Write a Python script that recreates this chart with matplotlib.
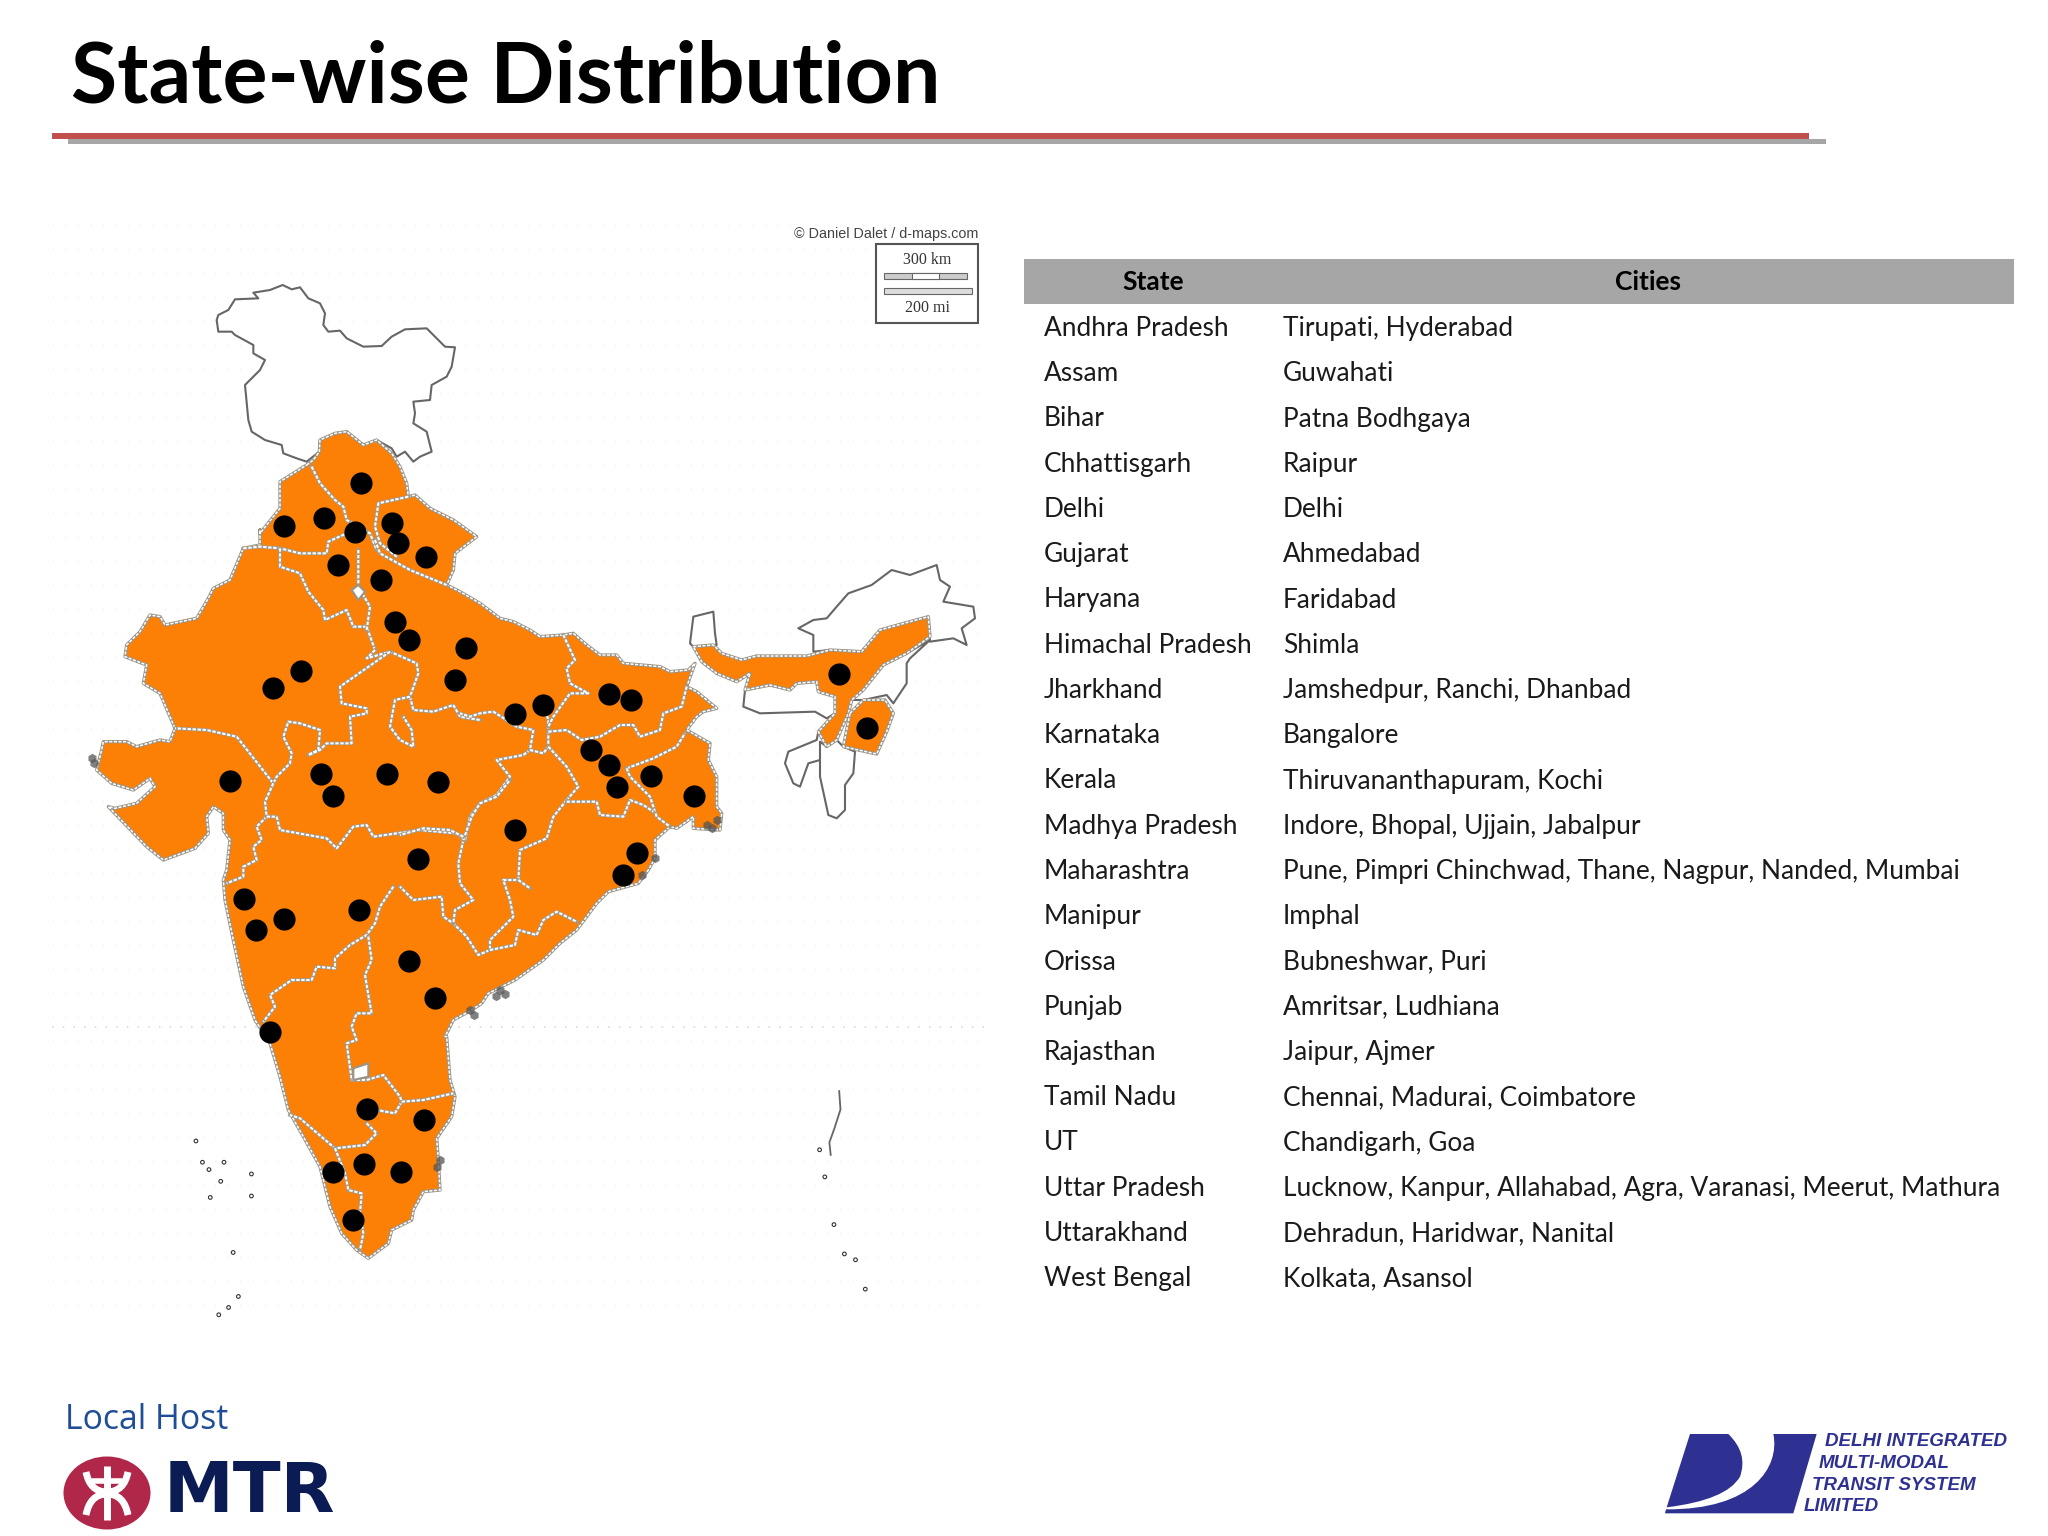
import matplotlib
matplotlib.use('Agg')
import matplotlib.pyplot as plt
from matplotlib.patches import Polygon, Rectangle, Ellipse, PathPatch
from matplotlib.path import Path

plt.rcParams['font.family'] = ['Lato', 'DejaVu Sans']

states = ['Andhra Pradesh', 'Assam', 'Bihar', 'Chhattisgarh', 'Delhi', 'Gujarat', 'Haryana',
          'Himachal Pradesh', 'Jharkhand', 'Karnataka', 'Kerala', 'Madhya Pradesh', 'Maharashtra',
          'Manipur', 'Orissa', 'Punjab', 'Rajasthan', 'Tamil Nadu', 'UT', 'Uttar Pradesh',
          'Uttarakhand', 'West Bengal']
cities = ['Tirupati, Hyderabad', 'Guwahati', 'Patna Bodhgaya', 'Raipur', 'Delhi', 'Ahmedabad',
          'Faridabad', 'Shimla', 'Jamshedpur, Ranchi, Dhanbad', 'Bangalore',
          'Thiruvananthapuram, Kochi', 'Indore, Bhopal, Ujjain, Jabalpur',
          'Pune, Pimpri Chinchwad, Thane, Nagpur, Nanded, Mumbai', 'Imphal', 'Bubneshwar, Puri',
          'Amritsar, Ludhiana', 'Jaipur, Ajmer', 'Chennai, Madurai, Coimbatore', 'Chandigarh, Goa',
          'Lucknow, Kanpur, Allahabad, Agra, Varanasi, Meerut, Mathura',
          'Dehradun, Haridwar, Nanital', 'Kolkata, Asansol']

# city markers, map coordinates
city_x = [553, 435, 496, 544, 600, 609, 653, 518, 583, 605, 627, 714, 696, 461, 418, 788, 832, 932,
          966, 1285, 1328, 905, 932, 945, 997, 1063, 352, 492, 510, 592, 671, 788, 640, 975, 954,
          374, 392, 435, 549, 627, 666, 413, 562, 649, 510, 557, 614, 540]
city_y = [386, 444, 433, 452, 440, 467, 487, 498, 518, 576, 600, 611, 654, 642, 665, 701, 689, 674,
          682, 646, 720, 750, 770, 801, 786, 813, 792, 782, 813, 782, 794, 859, 898, 890, 921,
          953, 995, 980, 968, 1038, 1088, 1135, 1240, 1255, 1325, 1314, 1325, 1391]


# outlines were traced on 3x crops, this puts them back in page pixels
def crop(x0, y0, pts):
    return [(x0 + x / 3, y0 + y / 3) for x, y in pts]


mainland = (
    crop(200, 270, [(320, 585), (340, 570), (358, 545), (360, 510), (405, 490), (440, 485), (490, 525), (530, 510),
                    (575, 550), (600, 590), (620, 640), (625, 680), (645, 675), (690, 715), (760, 750), (830, 800)])
    + crop(80, 520, [(1125, 100), (1120, 150), (1100, 195), (1140, 215)])
    + crop(460, 520, [(60, 250), (120, 295), (160, 305), (210, 330), (240, 350), (310, 345), (340, 340), (380, 375),
                      (420, 405), (470, 405), (490, 430), (600, 440), (630, 455), (685, 450), (705, 430), (680, 500),
                      (710, 515), (770, 565), (730, 575), (710, 590), (680, 630), (750, 670), (745, 720), (770, 770),
                      (770, 860), (785, 880), (780, 930), (700, 925), (700, 890), (650, 925)])
    + crop(400, 780, [(810, 140), (765, 180), (765, 235), (745, 270), (715, 310), (625, 335), (590, 370), (530, 450),
                      (480, 490), (430, 540), (345, 600), (265, 640), (245, 670), (215, 690), (160, 720), (135, 770)])
    + crop(220, 880, [(680, 470), (690, 600), (705, 650), (695, 710), (650, 775), (655, 840), (660, 930), (610, 935),
                      (580, 990), (575, 1020), (515, 1050), (505, 1090), (445, 1135), (410, 1110), (365, 1060),
                      (330, 980), (300, 860), (250, 770), (205, 690), (180, 590), (150, 490), (105, 420), (70, 320),
                      (40, 180), (15, 60), (10, 0)])
    + crop(80, 520, [(440, 1050), (450, 960), (430, 930), (430, 880), (400, 860), (380, 890), (385, 940), (345, 985),
                     (250, 1020), (200, 980), (85, 860), (105, 865), (170, 850), (225, 800), (210, 775), (160, 810),
                     (95, 790), (50, 750), (65, 690), (70, 665), (140, 665), (170, 680), (240, 660), (270, 665),
                     (285, 625), (240, 520), (190, 490), (200, 435), (135, 410), (140, 375), (180, 335), (210, 285),
                     (240, 290), (255, 315), (350, 295), (385, 235), (400, 205), (450, 180), (490, 85), (540, 75),
                     (540, 30)])
    + crop(200, 270, [(180, 790), (240, 715), (240, 635)])
)
assam = crop(680, 550, [(40, 290), (100, 285), (125, 310), (185, 330), (230, 318), (380, 318), (450, 300), (545, 305),
                        (600, 240), (690, 215), (745, 200), (750, 260), (680, 310), (610, 345), (550, 420), (515, 450),
                        (505, 490), (470, 570), (440, 590), (415, 545), (465, 490), (465, 440), (415, 425), (410, 395),
                        (350, 400), (330, 420), (270, 405), (195, 420), (210, 370), (170, 395), (110, 370), (65, 335)])
manipur = crop(680, 550, [(510, 490), (550, 450), (615, 450), (640, 490), (620, 545), (590, 612), (490, 590)])

white_areas = [
    crop(200, 270, [(50, 150), (55, 135), (85, 120), (105, 88), (175, 85), (160, 68), (210, 60), (248, 45), (275, 58),
                    (300, 52), (325, 85), (360, 100), (375, 130), (370, 165), (385, 185), (420, 182), (440, 205),
                    (490, 230), (545, 228), (575, 200), (615, 178), (680, 175), (710, 205), (735, 230), (765, 232),
                    (755, 290), (740, 320), (695, 345), (690, 390), (640, 395), (645, 430), (640, 460), (680, 485),
                    (695, 545), (660, 560), (640, 575), (615, 545), (590, 560), (575, 535), (530, 510), (490, 525),
                    (440, 485), (405, 490), (360, 510), (358, 545), (320, 575), (290, 565), (250, 550), (245, 525),
                    (195, 510), (155, 485), (145, 450), (135, 345), (180, 300), (195, 270), (160, 250), (160, 225),
                    (105, 195), (95, 185), (55, 185)]),
    crop(680, 550, [(30, 280), (40, 200), (100, 185), (105, 250), (110, 285), (40, 290)]),
    crop(680, 550, [(355, 235), (400, 210), (440, 205), (470, 170), (505, 130), (575, 105), (635, 60), (690, 75),
                    (770, 45), (780, 90), (810, 110), (790, 155), (880, 170), (885, 205), (845, 235), (860, 285),
                    (820, 265), (750, 275), (745, 205), (690, 215), (600, 240), (545, 305), (450, 300), (400, 305),
                    (400, 255)]),
    crop(680, 550, [(680, 310), (750, 270), (690, 325), (680, 340), (680, 400), (640, 460), (620, 435), (550, 450),
                    (515, 450), (550, 420), (610, 345)]),
    crop(680, 550, [(195, 420), (270, 405), (330, 420), (350, 400), (410, 395), (415, 425), (465, 440), (465, 490),
                    (440, 505), (405, 485), (240, 490), (190, 470)]),
    crop(680, 550, [(415, 545), (410, 570), (325, 605), (315, 640), (340, 700), (360, 710), (385, 640), (420, 630),
                    (440, 590)]),
    crop(680, 550, [(420, 575), (440, 590), (470, 570), (490, 590), (525, 605), (520, 670), (495, 705), (495, 780),
                    (470, 805), (445, 795), (420, 680)]),
]
# small pockets inside the mainland
pockets = [
    crop(80, 520, [(815, 210), (835, 195), (855, 215), (835, 240)]),
    crop(220, 880, [(400, 565), (445, 550), (445, 590), (400, 600)]),
]

borders = [
    crop(80, 520, [(490, 85), (540, 80), (600, 85), (660, 100), (740, 100), (745, 65), (800, 40), (840, 35)]),
    crop(80, 520, [(600, 85), (600, 140), (660, 160), (685, 215), (730, 270), (735, 300), (800, 270), (820, 320),
                   (860, 320), (885, 390)]),
    crop(80, 520, [(835, 90), (835, 200), (870, 260), (860, 330)]),
    crop(80, 520, [(885, 390), (860, 415), (930, 395), (1010, 430), (1015, 460), (990, 530), (1000, 570), (1060, 575),
                   (1120, 555), (1140, 590), (1200, 600)]),
    crop(80, 520, [(990, 530), (945, 540), (930, 620), (960, 660), (1000, 680), (995, 630), (970, 590)]),
    crop(80, 520, [(930, 395), (780, 500), (785, 550), (860, 565), (860, 580), (810, 590), (815, 670), (740, 670),
                   (720, 690), (685, 705), (715, 690), (720, 630), (660, 610), (625, 605), (610, 650), (635, 700),
                   (630, 730), (590, 770), (580, 790), (470, 650), (380, 630), (285, 625)]),
    crop(80, 520, [(580, 790), (555, 845), (560, 890), (530, 920), (545, 960), (520, 980), (530, 1020), (490, 1040),
                   (490, 1070), (440, 1090)]),
    crop(80, 520, [(560, 890), (590, 890), (600, 930), (740, 955), (770, 985), (820, 920), (860, 915), (880, 950),
                   (1020, 930), (1130, 940), (1155, 960)]),
    crop(80, 520, [(1155, 960), (1170, 890), (1200, 850)]),
    # Himachal, Uttarakhand
    crop(200, 270, [(335, 590), (360, 640), (405, 690), (430, 710), (440, 750), (510, 790), (530, 840)]),
    crop(200, 270, [(625, 680), (535, 700), (525, 770), (540, 820), (590, 860)]),
    crop(80, 520, [(885, 60), (900, 100), (990, 150), (1100, 195)]),
    crop(460, 520, [(60, 850), (110, 825), (150, 770), (110, 720), (190, 705), (210, 690), (220, 630), (170, 620),
                    (100, 575), (60, 580), (30, 590), (0, 580)]),
    crop(460, 520, [(210, 690), (250, 700), (265, 680), (265, 600), (250, 555)]),
    crop(460, 520, [(310, 345), (345, 420), (320, 445), (330, 490), (385, 520), (330, 520), (280, 590), (265, 620)]),
    crop(460, 520, [(265, 635), (320, 630), (365, 660), (420, 650), (480, 615), (520, 615), (540, 650), (600, 630),
                    (610, 580), (665, 560), (680, 500)]),
    crop(460, 520, [(265, 680), (320, 740), (355, 800), (320, 840)]),
    crop(460, 520, [(500, 745), (580, 715), (650, 680), (675, 640)]),
    crop(460, 520, [(500, 745), (510, 770), (570, 830), (590, 890), (630, 920)]),
    crop(400, 780, [(500, 60), (460, 110), (440, 175), (360, 210), (355, 300), (310, 300), (330, 360), (340, 410),
                    (270, 480), (270, 510), (235, 525), (200, 470), (160, 430), (130, 410), (125, 350), (40, 360),
                    (0, 320)]),
    crop(400, 780, [(355, 300), (390, 325)]),
    crop(400, 780, [(190, 180), (175, 250), (180, 310), (220, 360), (165, 390), (160, 430)]),
    crop(400, 780, [(190, 180), (215, 110), (240, 70), (290, 50), (330, 0)]),
    crop(400, 780, [(190, 170), (150, 150), (70, 145), (0, 165)]),
    crop(400, 780, [(270, 510), (345, 495), (355, 450), (410, 465), (430, 420), (470, 395), (530, 425)]),
    crop(400, 780, [(500, 65), (590, 65), (600, 105), (670, 110), (690, 60), (730, 75), (760, 95)]),
    crop(220, 880, [(520, 20), (480, 80), (465, 130), (440, 165), (390, 195), (345, 235), (345, 265), (290, 260),
                    (275, 300), (215, 300), (150, 345), (165, 380), (130, 425)]),
    crop(220, 880, [(445, 170), (455, 240), (435, 285), (445, 345), (455, 400), (410, 400), (395, 440), (410, 480),
                    (380, 490), (395, 600), (440, 600), (490, 585), (540, 650), (545, 665), (525, 700), (470, 690)]),
    crop(220, 880, [(545, 665), (610, 660), (700, 640)]),
    crop(220, 880, [(440, 730), (470, 760), (435, 795), (345, 805), (240, 715), (210, 705)]),
    crop(220, 880, [(345, 805), (375, 880), (385, 930), (425, 940), (420, 1000), (430, 1060), (420, 1110)]),
]

# dark specks at river deltas, page pixels
delta_x = [92, 94, 500, 505, 496, 470, 474, 707, 717, 712, 437, 440, 655, 642]
delta_y = [758, 763, 990, 994, 996, 1010, 1015, 825, 820, 828, 1167, 1160, 858, 875]

islands_x = [300, 310, 320, 343, 338, 322, 385, 385, 357, 365, 350, 335, 1255, 1263, 1277, 1293, 1310, 1325]
islands_y = [1283, 1312, 1322, 1312, 1338, 1360, 1328, 1358, 1435, 1495, 1510, 1520, 1295, 1332, 1397, 1437, 1445, 1485]
andaman_x = [1285, 1287, 1278, 1270, 1272]
andaman_y = [1215, 1240, 1265, 1285, 1302]

fig = plt.figure(figsize=(20.48, 15.36), dpi=100)

# page axes, in pixels
ax = fig.add_axes([0, 0, 1, 1])
ax.set_xlim(0, 2048)
ax.set_ylim(1536, 0)
ax.axis('off')

ax.text(71, 78, 'State-wise Distribution', fontsize=60.7, fontweight='bold', va='center', color='black')
ax.add_patch(Rectangle((68, 139), 1758, 5, color='#a6a6a6', lw=0))
ax.add_patch(Rectangle((52, 133), 1757, 6, color='#c0504d', lw=0))

# table
ax.add_patch(Rectangle((1024, 259), 990, 45, color='#a6a6a6', lw=0))
ax.text(1153, 282, 'State', fontsize=19, fontweight='bold', ha='center', va='center')
ax.text(1648, 282, 'Cities', fontsize=19, fontweight='bold', ha='center', va='center')
for i in range(len(states)):
    y = 328.5 + i * 45.25
    ax.text(1044, y, states[i], fontsize=18.95, va='center', color='#1a1a1a')
    ax.text(1283, y, cities[i], fontsize=18.95, va='center', color='#1a1a1a')

# faint dotted background of the map
ax.hlines(range(225, 1310, 24), 52, 985, color='#f0f0f0', lw=1, linestyle=(0, (1, 8)), zorder=1)
ax.hlines([1027], 52, 985, color='#d4d4d4', lw=1.1, linestyle=(0, (1, 6)), zorder=1)

orange = '#fb8005'
for poly in white_areas:
    ax.add_patch(Polygon(poly, closed=True, fc='white', ec='#666666', lw=1.5, joinstyle='round', zorder=2))
for poly in [mainland, assam, manipur]:
    ax.add_patch(Polygon(poly, closed=True, fc=orange, ec='#9a9488', lw=2.4, joinstyle='round', zorder=3))
    ax.add_patch(Polygon(poly, closed=True, fc='none', ec='white', lw=1.1, linestyle=(0, (2, 1)), zorder=3))
for b in borders:
    xs, ys = zip(*b)
    ax.plot(xs, ys, color='#a39a8c', lw=2.6, solid_joinstyle='round', zorder=4)
    ax.plot(xs, ys, color='white', lw=1.5, linestyle=(0, (1.6, 0.8)), zorder=4)
for poly in pockets:
    ax.add_patch(Polygon(poly, closed=True, fc='white', ec='#9a9488', lw=1.5, zorder=4))
ax.scatter(delta_x, delta_y, s=45, marker='h', color='#555555', alpha=0.75, lw=0, zorder=4)

# MTR logo
ax.text(65, 1420, 'Local Host', fontsize=24.3, color='#1f4e96', va='center', family='Open Sans')
ax.add_patch(Ellipse((107, 1493), 87, 73, color='#b0274a', lw=0))
for verts in [[(86, 1472), (90, 1492), (107, 1492), (124, 1492), (128, 1472)],
              [(86, 1515), (90, 1494), (107, 1494), (124, 1494), (128, 1515)]]:
    codes = [Path.MOVETO, Path.CURVE3, Path.CURVE3, Path.CURVE3, Path.CURVE3]
    ax.add_patch(PathPatch(Path(verts, codes), fc='none', ec='white', lw=5, capstyle='butt'))
ax.plot([107, 107], [1466, 1520], color='white', lw=5, solid_capstyle='butt')
ax.plot([92, 122], [1481, 1481], color='white', lw=4, solid_capstyle='butt')
ax.text(164, 1493, 'MTR', fontsize=50.5, fontweight='bold', color='#0b1c54', va='center', family='DejaVu Sans')

# DIMTS logo
blue = '#2e3192'
left_part = crop(1640, 1410, [(150, 72), (265, 72), (325, 130), (300, 200), (260, 270), (80, 292), (150, 72)])
left_codes = [Path.MOVETO, Path.LINETO, Path.CURVE3, Path.CURVE3, Path.CURVE3, Path.CURVE3, Path.CLOSEPOLY]
ax.add_patch(PathPatch(Path(left_part, left_codes), fc=blue, ec='none'))
right_part = crop(1640, 1410, [(400, 72), (530, 72), (460, 310), (75, 310), (78, 298), (340, 300), (420, 170), (400, 72),
                               (400, 72)])
right_codes = [Path.MOVETO, Path.LINETO, Path.LINETO, Path.LINETO, Path.LINETO, Path.CURVE4, Path.CURVE4, Path.CURVE4,
               Path.CLOSEPOLY]
ax.add_patch(PathPatch(Path(right_part, right_codes), fc=blue, ec='none'))
logo_lines = ['DELHI INTEGRATED', 'MULTI-MODAL', 'TRANSIT SYSTEM', 'LIMITED']
logo_pos = crop(1640, 1410, [(555, 95), (535, 160), (515, 225), (490, 290)])
for s, (x0, y0) in zip(logo_lines, logo_pos):
    ax.text(x0, y0, s, fontsize=13.5, fontweight='bold', style='italic', color=blue, va='center',
            family='Liberation Sans')

# map axes, coordinates from the first crop of the map
mp = fig.add_axes([0, (1536 - 1350) / 1536, 1024 / 2048, 1150 / 1536])
mp.set_xlim(0, 1568)
mp.set_ylim(1568, 0)
mp.axis('off')
mp.patch.set_alpha(0)

mp.plot(andaman_x, andaman_y, color='#666666', lw=1.3, zorder=3)
mp.scatter(islands_x, islands_y, s=7, facecolor='none', edgecolor='#333333', lw=0.8, zorder=3)
mp.scatter(city_x, city_y, s=255, color='black', lw=0, zorder=6)

# credit and scale box
mp.text(1498, 46, '\u00a9 Daniel Dalet / d-maps.com', fontsize=10.4, ha='right', va='center', color='#444444',
        family='Liberation Sans')
mp.add_patch(Rectangle((1342, 60), 155, 108, fc='white', ec='#555555', lw=1.5, zorder=2))
mp.text(1420, 82, '300 km', fontsize=11.5, ha='center', va='center', family='Liberation Serif', color='#333333', zorder=3)
mp.text(1420, 147, '200 mi', fontsize=11.5, ha='center', va='center', family='Liberation Serif', color='#333333', zorder=3)
mp.add_patch(Rectangle((1354, 100), 126, 8, fc='#cccccc', ec='#666666', lw=0.8, zorder=3))
mp.add_patch(Rectangle((1396, 100), 42, 8, fc='white', ec='#666666', lw=0.8, zorder=3))
mp.add_patch(Rectangle((1354, 120), 135, 8, fc='#dddddd', ec='#666666', lw=0.8, zorder=3))

fig.savefig('out.png', dpi=100, facecolor='white')
